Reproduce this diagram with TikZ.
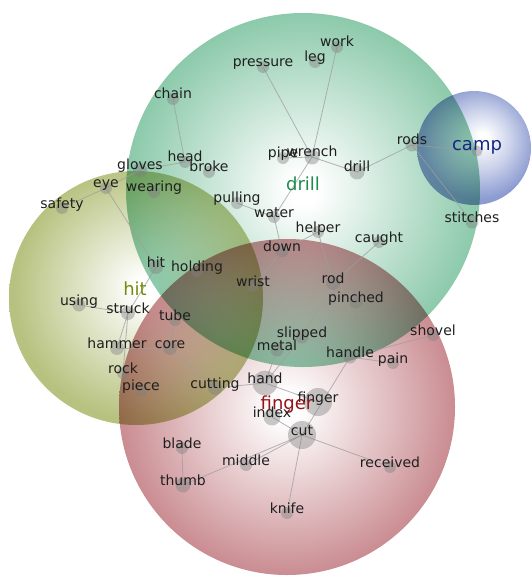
\documentclass[tikz,border=0pt]{standalone}
\usepackage{fontspec}
\setmainfont{DejaVu Sans}

% rim colours of the four clusters
\definecolor{drillrim}{rgb}{0.55,0.79,0.67}
\definecolor{fingerrim}{rgb}{0.79,0.55,0.57}
\definecolor{hitrim}{rgb}{0.72,0.76,0.50}
\definecolor{camprim}{rgb}{0.55,0.61,0.82}

% radial fills: white core fading to the rim colour (25bp = rim)
\pgfdeclareradialshading{drillshade}{\pgfpoint{0bp}{0bp}}{color(0bp)=(white);color(2bp)=(white);color(13bp)=(drillrim!48!white);color(25bp)=(drillrim);color(50bp)=(drillrim)}
\pgfdeclareradialshading{fingershade}{\pgfpoint{0bp}{0bp}}{color(0bp)=(white);color(2bp)=(white);color(13bp)=(fingerrim!48!white);color(25bp)=(fingerrim);color(50bp)=(fingerrim)}
\pgfdeclareradialshading{hitshade}{\pgfpoint{2bp}{2bp}}{color(0bp)=(white);color(2bp)=(white);color(13bp)=(hitrim!48!white);color(25bp)=(hitrim);color(50bp)=(hitrim)}
\pgfdeclareradialshading{campshade}{\pgfpoint{4bp}{5bp}}{color(0bp)=(white);color(2bp)=(white);color(13bp)=(camprim!45!white);color(25bp)=(camprim);color(50bp)=(camprim)}

\definecolor{drillc}{RGB}{30,140,80}
\definecolor{hitc}{RGB}{115,140,10}
\definecolor{fingerc}{RGB}{150,20,25}
\definecolor{campc}{RGB}{20,40,130}

\begin{document}
\begin{tikzpicture}[x=1pt,y=-1pt,
  dot/.style={circle,inner sep=0pt,minimum size=2*#1,fill=black!50,fill opacity=0.42},
  term/.style={anchor=base,inner sep=0pt,text=black!88,font=\fontsize{14}{16}\selectfont},
  topic/.style={anchor=base,inner sep=0pt,font=\fontsize{18}{21}\selectfont},
  link/.style={draw=black!38,line width=0.8pt,opacity=0.75}]
\useasboundingbox (0,0) rectangle (531,577);

% topic clusters
\begin{scope}[blend mode=multiply]
  \shade[shading=hitshade] (136,298) circle (127);
  \shade[shading=fingershade] (287,407) circle (168);
  \shade[shading=drillshade] (303,190) circle (177);
  \shade[shading=campshade] (474,148) circle (57);
\end{scope}

% term positions and dot radii
\foreach \n/\x/\y/\r in {
  work/337/47/6, leg/315/62/6, pressure/263/67/6, chain/173/99/6,
  head/185/162/6, broke/209/172/6, pipe/283/158/6, wrench/312/157/7.5,
  wdrill/357/172/7.5, rods/412/145/6.5, stitches/472/222/6.5, campdot/477/151/5.5,
  gloves/140/170/7, eye/106/188/6, wearing/154/192/6, safety/62/208/6,
  pulling/237/203/6, water/274/217/6, helper/318/232/6, caught/379/242/6,
  down/282/251/6.5, whit/156/267/7, holding/197/271/6, wrist/253/286/6,
  rod/333/283/7, pinched/356/302/6.5, using/79/305/6.5, struck/128/313/7,
  tube/175/320/6, slipped/302/337/6.5, metal/277/350/6.5, handle/350/357/6.5,
  shovel/433/335/6, pain/393/363/6, hammer/117/348/7, core/170/348/7,
  rock/123/373/6, piece/141/390/6.5, cutting/215/388/7, hand/265/383/12.5,
  wfinger/318/402/14, index/272/417/8.5, cut/302/435/14, blade/182/448/6,
  thumb/183/485/7.5, middle/246/465/6, received/390/467/6, knife/287/513/6}
  {\path (\x,\y) coordinate (\n);
   \global\expandafter\let\csname rad@\n\endcsname\r}

% links between terms
\foreach \a/\b in {
  pressure/wrench, work/wrench, chain/head, gloves/head, wrench/pipe,
  wrench/wdrill, wdrill/rods, rods/campdot, rods/stitches, wrench/water,
  pulling/water, water/down, down/wrist, down/helper, helper/rod, rod/caught,
  rod/slipped, slipped/hand, metal/hand, handle/cut, handle/shovel, handle/pain,
  hand/wfinger, cutting/hand, index/cut, cut/middle, cut/thumb, cut/received,
  cut/knife, blade/thumb, core/tube, core/hammer, core/cutting, struck/hammer,
  struck/rock, whit/struck, eye/whit, eye/safety, eye/gloves, using/struck}
  \draw[link] (\a) -- (\b);

% translucent term dots
\foreach \n in {work, leg, pressure, chain, head, broke, pipe, wrench, wdrill,
  rods, stitches, campdot, gloves, eye, wearing, safety, pulling, water, helper,
  caught, down, whit, holding, wrist, rod, pinched, using, struck, tube, slipped,
  metal, handle, shovel, pain, hammer, core, rock, piece, cutting, hand, wfinger,
  index, cut, blade, thumb, middle, received, knife}
  \node[dot=\csname rad@\n\endcsname pt] (d-\n) at (\n) {};

% term labels, baseline through the dot centre
\foreach \n/\t in {
  work/work, leg/leg, pressure/pressure, chain/chain, head/head, broke/broke,
  pipe/pipe, wrench/wrench, wdrill/drill, rods/rods, stitches/stitches,
  gloves/gloves, eye/eye, wearing/wearing, safety/safety, pulling/pulling,
  water/water, helper/helper, caught/caught, down/down, whit/hit,
  holding/holding, wrist/wrist, rod/rod, pinched/pinched, using/using,
  struck/struck, tube/tube, slipped/slipped, metal/metal, handle/handle,
  shovel/shovel, pain/pain, hammer/hammer, core/core, rock/rock, piece/piece,
  cutting/cutting, hand/hand, wfinger/finger, index/index, cut/cut,
  blade/blade, thumb/thumb, middle/middle, received/received, knife/knife}
  \node[term] (t-\n) at (\n) {\t};

% topic names
\node[topic,text=drillc] (c-drill) at (303,190) {drill};
\node[topic,text=hitc] (c-hit) at (135,295) {hit};
\node[topic,text=fingerc] (c-finger) at (287,409) {finger};
\node[topic,text=campc] (c-camp) at (campdot) {camp};
\end{tikzpicture}
\end{document}
